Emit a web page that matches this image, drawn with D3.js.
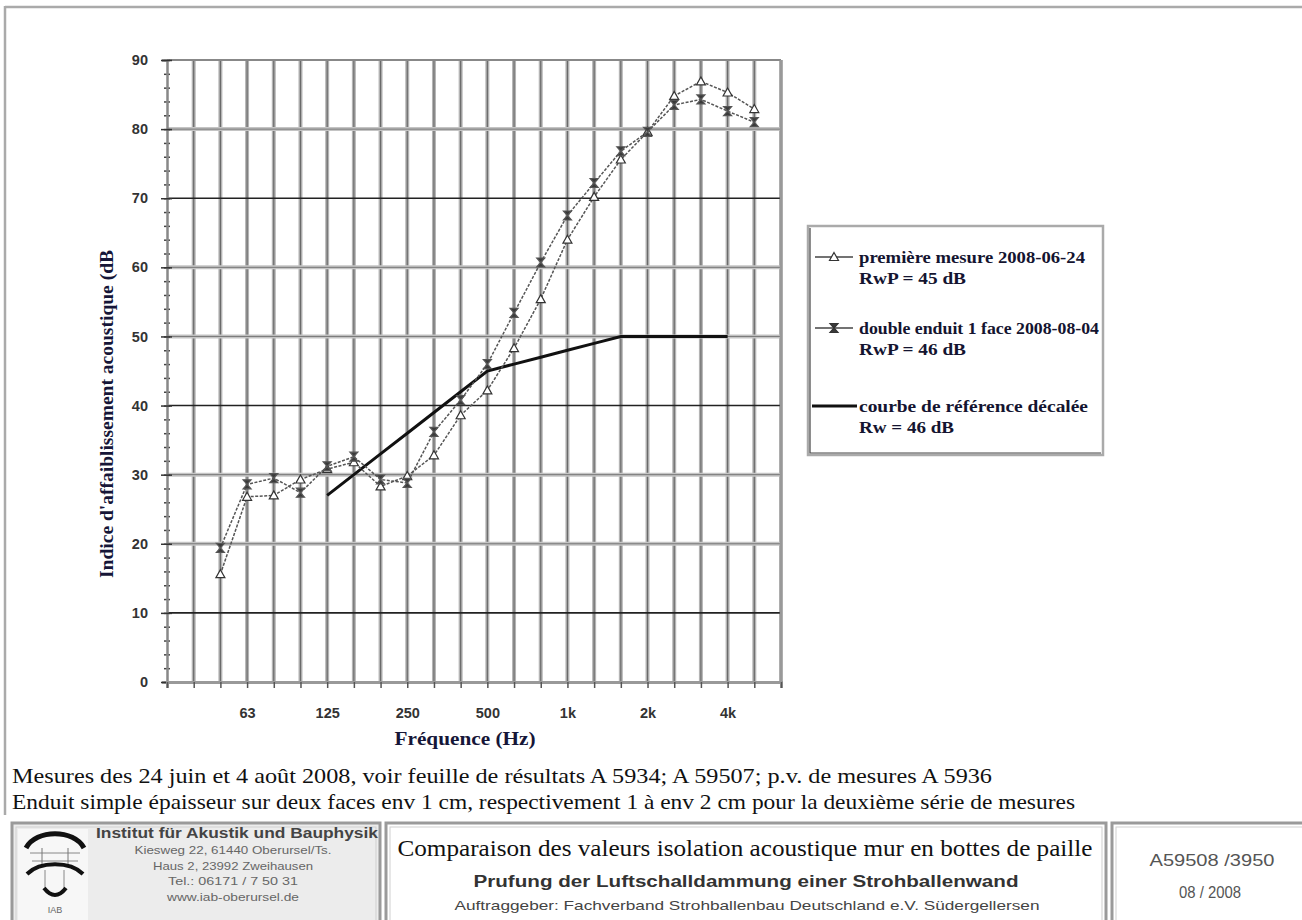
<!DOCTYPE html>
<html><head><meta charset="utf-8">
<script src="https://cdn.jsdelivr.net/npm/d3@7/dist/d3.min.js"></script>
<style>
html,body{margin:0;padding:0;background:#fff;}
svg{display:block;}
</style></head>
<body>
<svg id="c" width="1302" height="920"></svg>
<script>
// ---------- data ----------
const bands = ["31.5","40","50","63","80","100","125","160","200","250","315","400","500","630","800","1000","1250","1600","2000","2500","3150","4000","5000","6300"];
const measureBands = ["50","63","80","100","125","160","200","250","315","400","500","630","800","1000","1250","1600","2000","2500","3150","4000","5000"];
const premiereMesure = [15.6,26.8,27.0,29.3,30.8,31.8,28.3,29.8,32.8,38.6,42.2,48.3,55.4,64.0,70.2,75.6,79.6,84.8,86.9,85.3,82.9];
const doubleEnduit   = [19.4,28.6,29.5,27.4,31.2,32.6,29.3,28.8,36.2,40.8,46.0,53.4,60.7,67.5,72.2,76.8,79.6,83.5,84.3,82.6,81.0];
const refBands = ["125","160","200","250","315","400","500","630","800","1000","1250","1600","2000","2500","3150","4000"];
const refCurve = [27,30,33,36,39,42,45,46,47,48,49,50,50,50,50,50];
const yTicks = [0,10,20,30,40,50,60,70,80,90];
const xTickBands = ["63","125","250","500","1000","2000","4000"];
const xTickLabels = ["63","125","250","500","1k","2k","4k"];
const legendItems = [
  {l1:"première mesure 2008-06-24", l2:"RwP = 45 dB", kind:"tri"},
  {l1:"double enduit 1 face 2008-08-04", l2:"RwP = 46 dB", kind:"x"},
  {l1:"courbe de référence décalée", l2:"Rw = 46 dB", kind:"ref"}
];
const yTitle = "Indice d'affaiblissement acoustique (dB";
const xTitle = "Fréquence (Hz)";
const noteLines = [
  "Mesures des 24 juin et 4 août 2008, voir feuille de résultats A 5934; A 59507; p.v. de mesures A 5936",
  "Enduit simple épaisseur sur deux faces env 1 cm, respectivement 1 à env 2 cm pour la deuxième série de mesures"
];
const instLines = ["Kiesweg 22, 61440 Oberursel/Ts.","Haus 2, 23992 Zweihausen","Tel.: 06171 / 7 50 31","www.iab-oberursel.de"];

// ---------- layout ----------
const L = 167, R = 781, T = 60, B = 682;
const svg = d3.select("#c");
const serif = "'Liberation Serif','Times New Roman',serif";
const sans = "'Liberation Sans',Arial,sans-serif";

const x = d3.scalePoint().domain(bands).range([L, R]);
const y = d3.scaleLinear().domain([0, 90]).range([B, T]);

function fitText(sel, len) { return sel.attr("textLength", len).attr("lengthAdjust","spacingAndGlyphs"); }

// outer page frame
svg.append("line").attr("x1",5).attr("x2",1302).attr("y1",7).attr("y2",7).attr("stroke","#aaa").attr("stroke-width",2.5);
svg.append("line").attr("x1",5).attr("x2",5).attr("y1",6).attr("y2",815).attr("stroke","#aaa").attr("stroke-width",2.5);

const g = svg.append("g");

// vertical grid
bands.slice(1).forEach(b => {
  g.append("line").attr("x1",x(b)).attr("x2",x(b)).attr("y1",T).attr("y2",B)
    .attr("stroke","#b4b4b4").attr("stroke-width",4);
  g.append("line").attr("x1",x(b)).attr("x2",x(b)).attr("y1",T).attr("y2",B)
    .attr("stroke","#6a6a6a").attr("stroke-width",1.2);
});
// horizontal grid
yTicks.slice(1).forEach(v => {
  if (v === 90) return;
  if (v % 30 === 10) {
    g.append("line").attr("x1",L).attr("x2",R).attr("y1",y(v)).attr("y2",y(v)).attr("stroke","#222").attr("stroke-width",1.6);
  } else {
    g.append("line").attr("x1",L).attr("x2",R).attr("y1",y(v)).attr("y2",y(v)).attr("stroke","#c4c4c4").attr("stroke-width",4);
    g.append("line").attr("x1",L).attr("x2",R).attr("y1",y(v)).attr("y2",y(v)).attr("stroke","#777").attr("stroke-width",1);
  }
});
// top frame
g.append("line").attr("x1",L).attr("x2",R).attr("y1",T).attr("y2",T).attr("stroke","#888").attr("stroke-width",2);
g.append("line").attr("x1",R).attr("x2",R).attr("y1",T).attr("y2",B).attr("stroke","#999").attr("stroke-width",2.5);

// y axis minor ticks
const yMinor = g.append("g").attr("transform",`translate(${L},0)`)
  .call(d3.axisLeft(y).tickValues(d3.range(0,91,2)).tickSize(3).tickFormat(""));
yMinor.select(".domain").remove();
yMinor.selectAll("line").attr("x1",3).attr("x2",-3).attr("stroke","#444").attr("stroke-width",1.5);
// y axis
const yAx = g.append("g").attr("transform",`translate(${L},0)`)
  .call(d3.axisLeft(y).tickValues(yTicks).tickSize(5).tickPadding(14));
yAx.select(".domain").attr("stroke","#888").attr("stroke-width",2.5);
yAx.selectAll("line").attr("x1",5).attr("x2",-6).attr("stroke","#333").attr("stroke-width",1.5);
yAx.selectAll("text").attr("font-family",sans).attr("font-weight","bold").attr("font-size",14.5).attr("fill","#333");

// x axis
const xAx = g.append("g").attr("transform",`translate(0,${B})`)
  .call(d3.axisBottom(x).tickValues(bands).tickSize(6).tickPadding(20)
    .tickFormat(b => { const i = xTickBands.indexOf(b); return i >= 0 ? xTickLabels[i] : ""; }));
xAx.select(".domain").attr("stroke","#999").attr("stroke-width",3);
xAx.selectAll("line").attr("stroke","#555").attr("stroke-width",1.5);
xAx.selectAll("text").attr("font-family",sans).attr("font-weight","bold").attr("font-size",14.5).attr("fill","#333");

// axis titles
fitText(svg.append("text").attr("transform","translate(113,414) rotate(-90)").attr("text-anchor","middle")
  .attr("font-family",serif).attr("font-weight","bold").attr("font-size",18).attr("fill","#161638").text(yTitle), 328);
fitText(svg.append("text").attr("x",465).attr("y",745).attr("text-anchor","middle")
  .attr("font-family",serif).attr("font-weight","bold").attr("font-size",19).attr("fill","#161638").text(xTitle), 141);

// reference curve
const line = d3.line().x(d => x(d[0])).y(d => y(d[1]));
g.append("path").datum(refBands.map((b,i)=>[b,refCurve[i]])).attr("d",line)
  .attr("fill","none").attr("stroke","#111").attr("stroke-width",3);

// series
const triPath = "M0,-4.5L4.5,3.5L-4.5,3.5Z";
const xPath = "M-4,-4.5L4,-4.5L-4,4.5L4,4.5Z";
function drawSeries(vals, kind) {
  const data = measureBands.map((b,i)=>[b,vals[i]]);
  g.append("path").datum(data).attr("d",line).attr("fill","none")
    .attr("stroke","#555").attr("stroke-width",1.5).attr("stroke-dasharray","3,1.5");
  g.selectAll(null).data(data).enter().append("path")
    .attr("transform",d=>`translate(${x(d[0])},${y(d[1])})`)
    .attr("d", kind === "tri" ? triPath : xPath)
    .attr("fill", kind === "tri" ? "#fff" : "#3a3a3a")
    .attr("stroke", kind === "tri" ? "#333" : "#555").attr("stroke-width",1.2);
}
drawSeries(premiereMesure, "tri");
drawSeries(doubleEnduit, "x");

// legend
const lg = svg.append("g");
lg.append("rect").attr("x",808).attr("y",226).attr("width",295).attr("height",229)
  .attr("fill","#fff").attr("stroke","#aaa").attr("stroke-width",2.5);
lg.append("path").attr("d","M810,228 L810,453 L1101,453").attr("fill","none").attr("stroke","#444").attr("stroke-width",1.2);
const lgY = [263, 334, 412];
const lgW1 = [226, 240, 229];
const lgW2 = [107, 107, 95];
legendItems.forEach((it,i) => {
  const yy = lgY[i];
  if (it.kind === "ref") {
    lg.append("line").attr("x1",812).attr("x2",857).attr("y1",yy-6).attr("y2",yy-6).attr("stroke","#111").attr("stroke-width",3);
  } else {
    lg.append("line").attr("x1",815).attr("x2",853).attr("y1",yy-6).attr("y2",yy-6).attr("stroke","#444").attr("stroke-width",1.3);
    lg.append("path").attr("transform",`translate(834,${yy-6})`)
      .attr("d", it.kind === "tri" ? triPath : xPath)
      .attr("fill", it.kind === "tri" ? "#fff" : "#3a3a3a").attr("stroke","#333").attr("stroke-width",1.2);
  }
  fitText(lg.append("text").attr("x",859).attr("y",yy).attr("font-family",serif).attr("font-weight","bold")
    .attr("font-size",17).attr("fill","#141430").text(it.l1), lgW1[i]);
  fitText(lg.append("text").attr("x",859).attr("y",yy+21).attr("font-family",serif).attr("font-weight","bold")
    .attr("font-size",17).attr("fill","#141430").text(it.l2), lgW2[i]);
});

// notes
const noteW = [980, 1063];
noteLines.forEach((t,i) => {
  fitText(svg.append("text").attr("x",12).attr("y",783 + i*26).attr("font-family",serif).attr("font-size",21)
    .attr("fill","#111").text(t), noteW[i]);
});

// footer boxes
function box(x0, w, fill) {
  svg.append("rect").attr("x",x0).attr("y",823).attr("width",w).attr("height",102)
    .attr("fill",fill).attr("stroke","#9a9a9a").attr("stroke-width",3);
  svg.append("rect").attr("x",x0+4).attr("y",827).attr("width",w-8).attr("height",100)
    .attr("fill","none").attr("stroke","#cfcfcf").attr("stroke-width",1);
}
box(12, 368, "#ececec");
box(386, 720, "#fff");
box(1112, 195, "#fff");
svg.append("rect").attr("x",18).attr("y",829).attr("width",70).attr("height",95).attr("fill","#f7f7f7");

// logo
const lo = svg.append("g").attr("fill","none");
lo.append("path").attr("d","M26,848 C36,829 74,829 84,848").attr("stroke","#111").attr("stroke-width",5);
lo.append("line").attr("x1",30).attr("x2",80).attr("y1",853).attr("y2",853).attr("stroke","#888").attr("stroke-width",1);
lo.append("line").attr("x1",32).attr("x2",78).attr("y1",861).attr("y2",861).attr("stroke","#888").attr("stroke-width",1);
lo.append("line").attr("x1",42).attr("x2",42).attr("y1",848).attr("y2",866).attr("stroke","#777").attr("stroke-width",1);
lo.append("line").attr("x1",68).attr("x2",68).attr("y1",848).attr("y2",866).attr("stroke","#777").attr("stroke-width",1);
lo.append("path").attr("d","M27,874 C40,861 70,861 83,874").attr("stroke","#111").attr("stroke-width",4);
lo.append("line").attr("x1",45).attr("x2",45).attr("y1",870).attr("y2",890).attr("stroke","#888").attr("stroke-width",1);
lo.append("line").attr("x1",64).attr("x2",64).attr("y1",870).attr("y2",890).attr("stroke","#888").attr("stroke-width",1);
lo.append("path").attr("d","M44,888 Q55,902 66,888").attr("stroke","#111").attr("stroke-width",4);
svg.append("text").attr("x",55).attr("y",913).attr("text-anchor","middle").attr("font-family",sans)
  .attr("font-size",9).attr("fill","#666").text("IAB");

// institute text
fitText(svg.append("text").attr("x",237).attr("y",838).attr("text-anchor","middle").attr("font-family",sans)
  .attr("font-weight","bold").attr("font-size",14).attr("fill","#444").text("Institut für Akustik und Bauphysik"), 282);
const instW = [197, 160, 130, 132];
instLines.forEach((t,i) => {
  fitText(svg.append("text").attr("x",233).attr("y",854 + i*15.5).attr("text-anchor","middle").attr("font-family",sans)
    .attr("font-size",11.5).attr("fill","#666").text(t), instW[i]);
});

// title box
fitText(svg.append("text").attr("x",745).attr("y",856).attr("text-anchor","middle").attr("font-family",serif)
  .attr("font-size",24).attr("fill","#111").text("Comparaison des valeurs isolation acoustique mur en bottes de paille"), 695);
fitText(svg.append("text").attr("x",746).attr("y",887).attr("text-anchor","middle").attr("font-family",sans)
  .attr("font-weight","bold").attr("font-size",16).attr("fill","#333").text("Prufung der Luftschalldammung einer Strohballenwand"), 545);
fitText(svg.append("text").attr("x",747).attr("y",910).attr("text-anchor","middle").attr("font-family",sans)
  .attr("font-size",13).attr("fill","#444").text("Auftraggeber: Fachverband Strohballenbau Deutschland e.V. Südergellersen"), 585);

// ref box
fitText(svg.append("text").attr("x",1212).attr("y",866).attr("text-anchor","middle").attr("font-family",sans)
  .attr("font-size",17).attr("fill","#555").text("A59508 /3950"), 125);
fitText(svg.append("text").attr("x",1210).attr("y",898).attr("text-anchor","middle").attr("font-family",sans)
  .attr("font-size",17).attr("fill","#555").text("08 / 2008"), 62);
</script>
</body></html>
